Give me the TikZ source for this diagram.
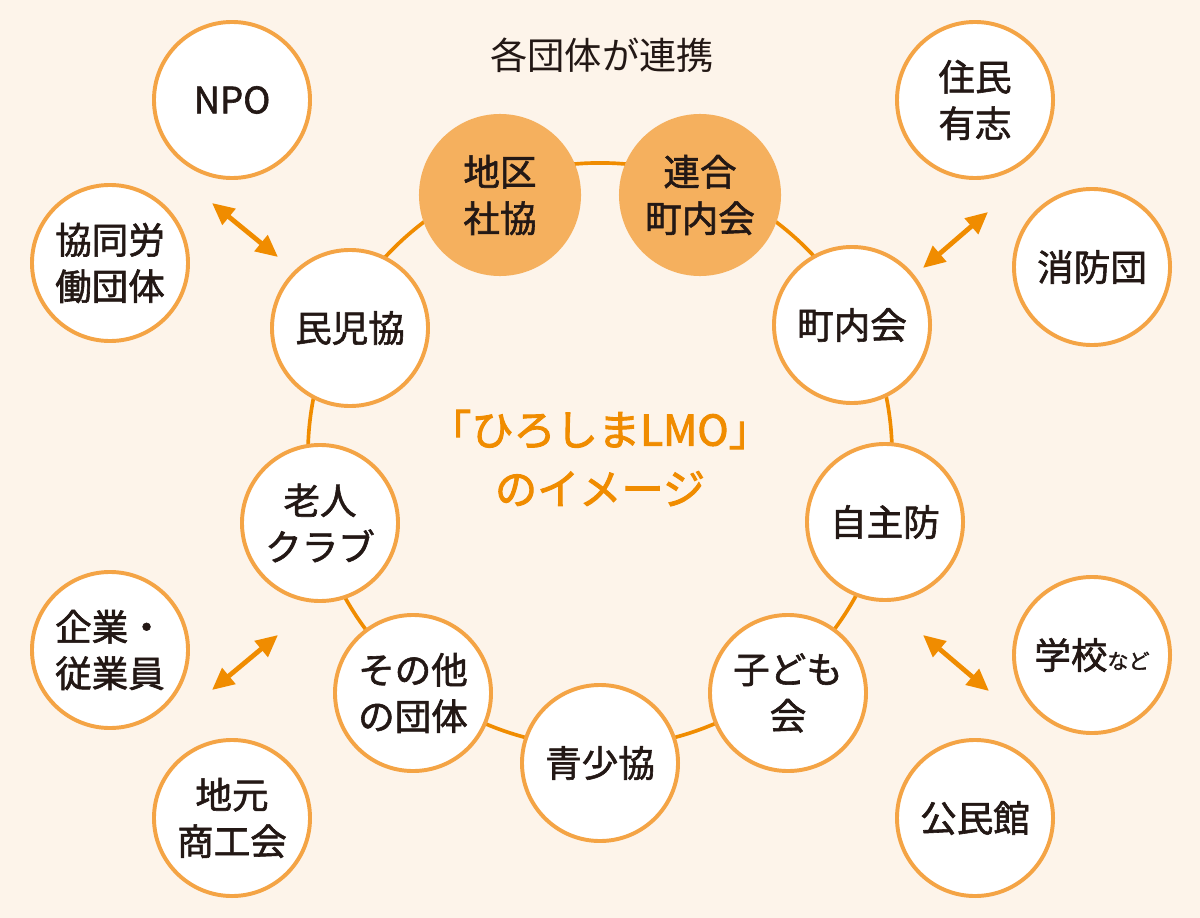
\documentclass[tikz,border=0pt]{standalone}
\usepackage{fontspec}
\setmainfont{Noto Sans CJK JP}
\newfontfamily\medfont{Noto Sans CJK JP}[FakeBold=1.6]
\newfontfamily\heavyfont{Noto Sans CJK JP}[FakeBold=2.2]
\usepackage{tikz}
\usetikzlibrary{arrows.meta}

\definecolor{bgcream}{HTML}{FDF4EA}
\definecolor{ringorange}{HTML}{F08C00}
\definecolor{edgeorange}{HTML}{F4A445}
\definecolor{fillorange}{HTML}{F5B05E}
\definecolor{textdark}{HTML}{231815}

\begin{document}
\begin{tikzpicture}[
  x=0.025cm, y=-0.025cm,
  ring/.style={draw=ringorange, line width=2.6pt, circle, minimum size=14.6cm, inner sep=0pt},
  member/.style={draw=edgeorange, fill=white, line width=2.8pt, circle, minimum size=3.9cm, inner sep=0pt, align=center, text=textdark, font=\medfont\fontsize{26}{33}\selectfont},
  core/.style={member, draw=none, fill=fillorange, minimum size=4.05cm},
  partner/.style={member},
  link/.style={draw=ringorange, line width=3.4pt, {Triangle[length=0.55cm,width=0.5cm]}-{Triangle[length=0.55cm,width=0.5cm]}}
]

  \fill[bgcream] (0,0) rectangle (1200,918);

  \node[font=\fontsize{26.5}{30}\selectfont, text=textdark] (title) at (602,55) {各団体が連携};

  \node[ring] (lmo) at (600,455) {};
  \node[text=ringorange, align=center, font=\heavyfont\fontsize{30}{42}\selectfont] (image) at (600,458) {「ひろしまLMO」\\のイメージ};

  % inner ring
  \node[core] (shakyo) at (500,195) {地区\\社協};
  \node[core] (rengo) at (700,195) {連合\\町内会};
  \node[member] (minji) at (350,328) {民児協};
  \node[member] (chonai) at (852,325) {町内会};
  \node[member] (rojin) at (320,523) {老人\\クラブ};
  \node[member] (jishu) at (885,522) {自主防};
  \node[member] (sonota) at (413,693) {その他\\の団体};
  \node[member] (kodomo) at (788,693) {子ども\\会};
  \node[member] (seisho) at (600,763) {青少協};

  % outer partners
  \node[partner] (npo) at (232,100) {NPO};
  \node[partner] (kyodo) at (110,263) {協同労\\働団体};
  \node[partner] (kigyo) at (110,650) {企業・\\従業員};
  \node[partner] (shoko) at (232,818) {地元\\商工会};
  \node[partner] (jumin) at (975,100) {住民\\有志};
  \node[partner] (shobo) at (1092,267) {消防団};
  \node[partner] (gakko) at (1092,655) {学校{\fontsize{15}{15}\selectfont など}};
  \node[partner] (kominkan) at (975,818) {公民館};

  \coordinate (nwA) at (212,203);
  \coordinate (nwB) at (278,257);
  \coordinate (neA) at (988,212);
  \coordinate (neB) at (923,268);
  \coordinate (swA) at (212,690);
  \coordinate (swB) at (278,635);
  \coordinate (seA) at (923,635);
  \coordinate (seB) at (989,691);

  \draw[link] (nwA) -- (nwB);
  \draw[link] (neA) -- (neB);
  \draw[link] (swA) -- (swB);
  \draw[link] (seA) -- (seB);

\end{tikzpicture}
\end{document}
